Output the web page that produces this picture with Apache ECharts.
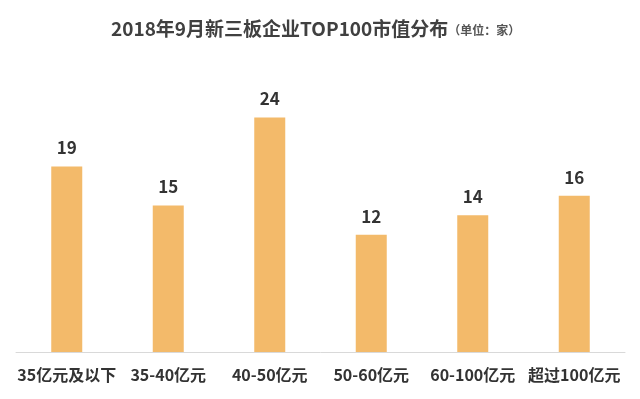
<!DOCTYPE html>
<html>
<head>
<meta charset="utf-8">
<script src="https://cdn.jsdelivr.net/npm/echarts@6/dist/echarts.min.js"></script>
<style>html,body{margin:0;padding:0;background:#fff}#c{width:640px;height:399px}</style>
</head>
<body>
<div id="c"></div>
<script>
const categories = ['35亿元及以下', '35-40亿元', '40-50亿元', '50-60亿元', '60-100亿元', '超过100亿元'];
const values = [19, 15, 24, 12, 14, 16];
const titleText = '2018年9月新三板企业TOP100市值分布';
const unitText = '（单位：家）';

const chart = echarts.init(document.getElementById('c'));
chart.setOption({
  animation: false,
  backgroundColor: '#ffffff',
  title: {
    text: '{a|' + titleText + '}{b|' + unitText + '}',
    left: 106,
    top: 14,
    textStyle: {
      rich: {
        a: { fontFamily: 'Noto Sans CJK SC', fontWeight: 'bold', fontSize: 19, color: '#404040' },
        b: { fontFamily: 'Noto Sans CJK SC', fontWeight: 'bold', fontSize: 12, color: '#555555', padding: [3, 0, 0, 0] }
      }
    }
  },
  grid: { left: 16, right: 15, top: 98, bottom: 47 },
  xAxis: {
    type: 'category',
    data: categories,
    axisTick: { show: false },
    axisLine: { lineStyle: { color: '#d9d9d9', width: 1 } },
    axisLabel: {
      interval: 0,
      margin: 15,
      fontFamily: 'Noto Sans CJK SC',
      fontWeight: 'bold',
      fontSize: 16,
      color: '#333333'
    }
  },
  yAxis: {
    type: 'value',
    min: 0,
    max: 26,
    show: false,
    splitLine: { show: false }
  },
  series: [{
    type: 'bar',
    data: values,
    barWidth: 31,
    itemStyle: { color: '#F3BA6A' },
    label: {
      show: true,
      position: 'top',
      distance: 10,
      fontFamily: 'Noto Sans CJK SC',
      fontWeight: 'bold',
      fontSize: 17,
      color: '#333333'
    }
  }]
});
</script>
</body>
</html>
